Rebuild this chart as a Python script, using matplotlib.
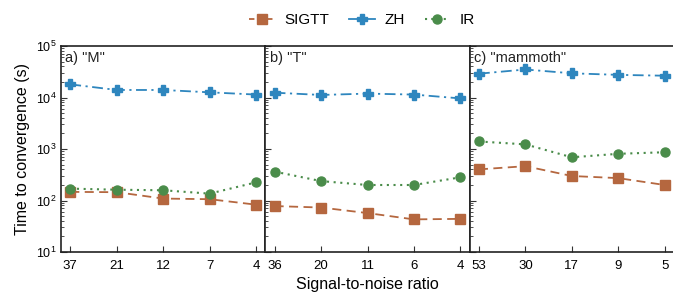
import matplotlib
matplotlib.use("Agg")
import matplotlib.pyplot as plt
from matplotlib import font_manager
from matplotlib.lines import Line2D

names = {f.name for f in font_manager.fontManager.ttflist}
fam = "Liberation Sans Narrow" if "Liberation Sans Narrow" in names else "Liberation Sans"
plt.rcParams['font.family'] = [fam, 'DejaVu Sans']

panels = ['a) "M"', 'b) "T"', 'c) "mammoth"']
snr_labels = [["37", "21", "12", "7", "4"],
              ["36", "20", "11", "6", "4"],
              ["53", "30", "17", "9", "5"]]

sigtt = [[147, 145, 109, 106, 83],
         [78, 73, 57, 43, 44],
         [402, 464, 299, 272, 200]]
zh = [[18000, 14000, 14000, 12600, 11400],
      [12400, 11200, 11900, 11400, 9600],
      [29000, 35000, 29500, 27500, 26500]]
ir = [[170, 162, 158, 136, 225],
      [364, 238, 200, 200, 282],
      [1400, 1230, 690, 807, 865]]

c_sig = '#B5673F'
c_zh = '#2E86BE'
c_ir = '#4A8C4A'

W, H = 673, 293
fig = plt.figure(figsize=(W / 100, H / 100), dpi=100)

left, right, top, bottom = 61, 674, 46, 252
pw = (right - left) / 3
axes = []
for i in range(3):
    ax = fig.add_axes([(left + i * pw) / W, (H - bottom) / H, pw / W, (bottom - top) / H])
    axes.append(ax)
    x = list(range(len(snr_labels[i])))
    ax.plot(x, sigtt[i], color=c_sig, ls=(0, (5, 3)), lw=1.3, marker='s', ms=6.5, label='SIGTT')
    ax.plot(x, zh[i], color=c_zh, ls=(0, (6, 2.5, 1.2, 2.5)), lw=1.3, marker='P', ms=7, label='ZH')
    ax.plot(x, ir[i], color=c_ir, ls=(0, (1, 2.2)), lw=1.5, marker='o', ms=6.5, label='IR')
    ax.set_yscale('log')
    ax.set_ylim(10, 1e5)
    ax.set_xlim(-0.2, 4.2)
    ax.set_xticks(x)
    ax.set_xticklabels(snr_labels[i], fontsize=9.5)
    ax.tick_params(axis='both', which='both', direction='in', color='#333333', right=False, top=False)
    ax.tick_params(axis='x', length=4, pad=6)
    ax.tick_params(axis='y', which='major', length=4)
    ax.tick_params(axis='y', which='minor', length=2.5)
    ax.text(0.022, 0.975, panels[i], transform=ax.transAxes, ha='left', va='top', fontsize=10.5, color='#222222')
    for s in ax.spines.values():
        s.set_color('#222222')
        s.set_linewidth(1.2)
    if i > 0:
        ax.tick_params(axis='y', which='both', labelleft=False)
    else:
        ax.tick_params(axis='y', labelsize=9)
        ax.set_ylabel('Time to convergence (s)', fontsize=11.5, labelpad=4)

fig.text((left + 1.5 * pw) / W, 1 - 284 / H, 'Signal-to-noise ratio', ha='center', va='center', fontsize=11.5)

handles = [Line2D([], [], color=c_sig, ls=(0, (3, 2)), lw=1.3, marker='s', ms=7),
           Line2D([], [], color=c_zh, ls='-', lw=1.3, marker='P', ms=7.5),
           Line2D([], [], color=c_ir, ls=(0, (1, 2)), lw=1.5, marker='o', ms=6.5)]
fig.legend(handles, ['SIGTT', 'ZH', 'IR'], loc='center', bbox_to_anchor=(0.538, 1 - 20 / H),
           ncol=3, frameon=False, fontsize=11, handlelength=1.7, columnspacing=1.3, handletextpad=0.6)

fig.savefig('out.png', dpi=100)
